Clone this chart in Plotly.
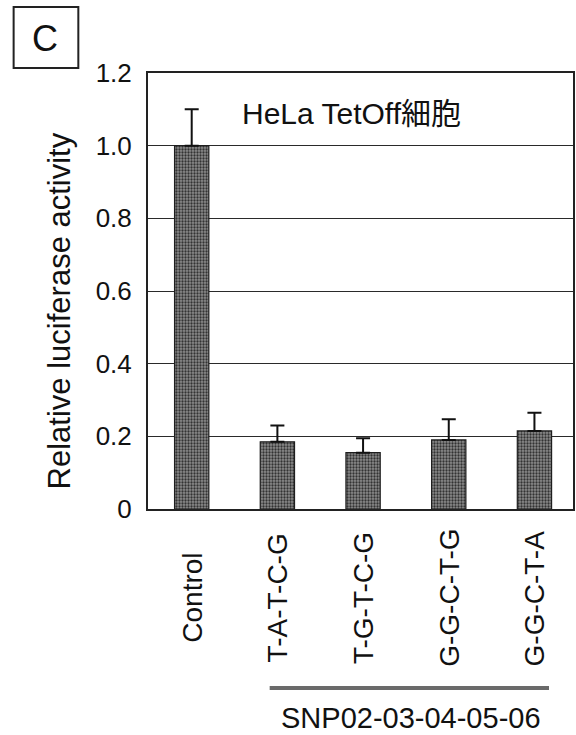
import plotly.graph_objects as go

# Relative luciferase activity in HeLa TetOff cells
categories = ["Control", "T-A-T-C-G", "T-G-T-C-G", "G-G-C-T-G", "G-G-C-T-A"]
activity = [1.0, 0.185, 0.155, 0.19, 0.215]
error = [0.1, 0.045, 0.04, 0.057, 0.05]

y_ticks = [0, 0.2, 0.4, 0.6, 0.8, 1.0, 1.2]
y_tick_labels = ["0", "0.2", "0.4", "0.6", "0.8", "1.0", "1.2"]

W, H = 576, 735
ML, MR, MT, MB = 148, 1, 73, 226
plot_h = H - MT - MB
plot_w = W - ML - MR

FONT = "Liberation Sans, Arial, Helvetica, sans-serif"
CJK = "Liberation Sans, Noto Sans CJK JP, sans-serif"
INK = "#111111"

fig = go.Figure()
fig.add_trace(go.Bar(
    x=list(range(len(categories))),
    y=activity,
    marker=dict(
        color="#7a7a7a",
        line=dict(color="#1e1e1e", width=1.2),
        pattern=dict(shape=".", size=3, solidity=0.45,
                     fgcolor="#333333", bgcolor="#8c8c8c", fillmode="replace"),
    ),
    error_y=dict(type="data", symmetric=False, array=error,
                 arrayminus=[0] * len(error),
                 color=INK, thickness=2, width=7),
    width=0.4,
    showlegend=False,
))


def py(px):
    """Pixel row (from top of page) -> paper y."""
    return (H - MB - px) / plot_h


def px_x(px):
    """Pixel column (from left of page) -> paper x."""
    return (px - ML) / plot_w


annotations = []
# rotated category labels beneath the axis
for i, c in enumerate(categories):
    annotations.append(dict(
        x=i, y=py(598), xref="x", yref="paper",
        text=c, textangle=-90, showarrow=False,
        xanchor="center", yanchor="middle",
        font=dict(family=FONT, size=28, color=INK),
    ))

annotations += [
    dict(x=px_x(240), y=py(113), xref="paper", yref="paper",
         text="HeLa TetOff細胞", showarrow=False, xanchor="left", yanchor="middle",
         font=dict(family=CJK, size=30, color=INK)),
    dict(x=px_x(412), y=py(718), xref="paper", yref="paper",
         text="SNP02-03-04-05-06", showarrow=False, xanchor="center", yanchor="middle",
         font=dict(family=FONT, size=29, color=INK)),
    dict(x=px_x(45), y=py(39), xref="paper", yref="paper",
         text="C", showarrow=False, xanchor="center", yanchor="middle",
         font=dict(family=FONT, size=36, color=INK)),
    dict(x=px_x(59), y=py(311), xref="paper", yref="paper",
         text="Relative luciferase activity", textangle=-90, showarrow=False,
         xanchor="center", yanchor="middle",
         font=dict(family=FONT, size=31, color=INK)),
]

shapes = [
    # panel letter box
    dict(type="rect", xref="paper", yref="paper",
         x0=px_x(13), x1=px_x(78), y0=py(68), y1=py(7),
         line=dict(color="#222222", width=2)),
    # bracket line under the SNP haplotypes
    dict(type="line", xref="x", yref="paper",
         x0=0.91, x1=4.17, y0=py(688), y1=py(688),
         line=dict(color="#6a6a6a", width=4)),
]

fig.update_layout(
    width=W, height=H,
    margin=dict(l=ML, r=MR, t=MT, b=MB, pad=0),
    paper_bgcolor="white", plot_bgcolor="white",
    bargap=0.6,
    annotations=annotations,
    shapes=shapes,
    font=dict(family=FONT, color=INK),
    xaxis=dict(
        range=[-0.51, 4.45], showticklabels=False, ticks="",
        showgrid=False, zeroline=False,
        showline=True, linecolor="#222222", linewidth=2, mirror=True,
    ),
    yaxis=dict(
        range=[0, 1.2], tickvals=y_ticks, ticktext=y_tick_labels,
        tickfont=dict(family=FONT, size=26, color=INK),
        ticks="", ticklabelstandoff=9,
        showgrid=True, gridcolor="#2a2a2a", gridwidth=1,
        zeroline=False,
        showline=True, linecolor="#222222", linewidth=2, mirror=True,
    ),
)

fig.write_html("out.html")
